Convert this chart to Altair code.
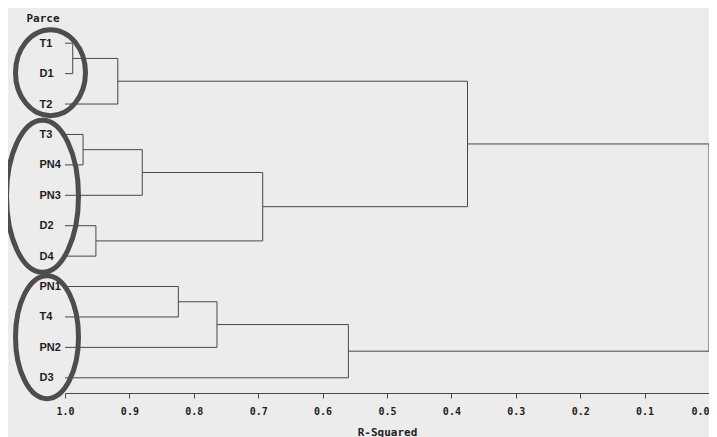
import altair as alt
import pandas as pd

# ---- data ----
leaves = ["T1", "D1", "T2", "T3", "PN4", "PN3", "D2", "D4", "PN1", "T4", "PN2", "D3"]

# merges in order of joining: (child a, child b, R-squared at join, new cluster name)
merge_a = ["T1", "T3", "D2", "CL11", "CL10", "PN1", "CL6", "CL7", "CL5", "CL8", "CL2"]
merge_b = ["D1", "PN4", "D4", "T2", "PN3", "T4", "PN2", "CL9", "D3", "CL4", "CL3"]
merge_r2 = [0.988, 0.972, 0.952, 0.918, 0.880, 0.824, 0.764, 0.693, 0.560, 0.375, 0.000]
merge_name = ["CL11", "CL10", "CL9", "CL8", "CL7", "CL6", "CL5", "CL4", "CL3", "CL2", "CL1"]

groups = [["T1", "D1", "T2"], ["T3", "PN4", "PN3", "D2", "D4"], ["PN1", "T4", "PN2", "D3"]]

x_ticks = [0.0, 0.1, 0.2, 0.3, 0.4, 0.5, 0.6, 0.7, 0.8, 0.9, 1.0]

# ---- build dendrogram segments from the tree ----
pos = {name: i for i, name in enumerate(leaves)}
height = {name: 1.0 for name in leaves}
segs = []
for a, b, h, n in zip(merge_a, merge_b, merge_r2, merge_name):
    for c in (a, b):
        segs.append({"x": height[c], "x2": h, "y": pos[c], "y2": pos[c]})
    segs.append({"x": h, "x2": h, "y": pos[a], "y2": pos[b]})
    pos[n] = (pos[a] + pos[b]) / 2
    height[n] = h
seg_df = pd.DataFrame(segs)

LINE = "#474747"
TEXT = "#1e1e1e"
MONO = "DejaVu Sans Mono"
SANS = "Liberation Sans"

label_expr = "[" + ",".join("'%s'" % l for l in leaves) + "][datum.value]"

xscale = alt.Scale(domain=[0, 1], reverse=True, nice=False, zero=False)
yscale = alt.Scale(domain=[-0.5, len(leaves) - 0.5], reverse=True, nice=False, zero=False)

xaxis = alt.Axis(values=x_ticks, format=".1f", grid=False, labelFlush=False,
                 labelOverlap=False, domainColor=LINE, tickColor=LINE, tickSize=5,
                 labelFont=MONO, labelFontWeight="bold", labelFontSize=10,
                 labelColor=TEXT, labelPadding=8,
                 labelAlign={"condition": {"test": "datum.value == 0", "value": "right"},
                             "value": "center"},
                 title="R-Squared", titleFont=MONO, titleFontWeight="bold",
                 titleFontSize=11, titleColor=TEXT, titleY=33,
                 titleBaseline="top")
yaxis = alt.Axis(values=list(range(len(leaves))), labelExpr=label_expr, grid=False,
                 domain=False, ticks=False, tickSize=0, labelAlign="left",
                 labelBaseline="middle", labelPadding=26, labelFont=SANS,
                 labelFontWeight="bold", labelFontSize=11, labelColor=TEXT,
                 labelOverlap=False,
                 title="Parce", titleAngle=0, titleX=-39, titleY=-10,
                 titleAlign="left", titleBaseline="middle", titleFont=MONO,
                 titleFontWeight="bold", titleFontSize=11, titleColor=TEXT)

tree = alt.Chart(seg_df).mark_rule(color=LINE, strokeWidth=1).encode(
    x=alt.X("x:Q", scale=xscale, axis=xaxis),
    x2="x2",
    y=alt.Y("y:Q", scale=yscale, axis=yaxis),
    y2="y2",
)

# ellipse annotations around the three groups (style: x px, y offset px, semi-axes)
ellipse_style = [
    {"x": -14.5, "dy": -1, "a": 35.0, "b": 43.0},
    {"x": -22.5, "dy": 1, "a": 36.0, "b": 76.0},
    {"x": -18.0, "dy": 5, "a": 31.5, "b": 61.5},
]
rows = []
for g in groups:
    rows.append(sum(pos[l] for l in g) / len(g))

layers = [tree]
for i, st in enumerate(ellipse_style):
    r = st["a"] / st["b"]
    path = "M0,-1A%.4f,1 0 1,1 0,1A%.4f,1 0 1,1 0,-1Z" % (r, r)
    gdf = pd.DataFrame({"ym": [rows[i]]})
    layers.append(
        alt.Chart(gdf).mark_point(shape=path, filled=False, stroke="#4d4d4d",
                                  strokeWidth=5, size=(2 * st["b"]) ** 2,
                                  yOffset=st["dy"], opacity=1).encode(
            x=alt.value(st["x"]),
            y=alt.Y("ym:Q", scale=yscale, axis=None),
        )
    )

chart = alt.layer(*layers).resolve_scale(y="independent").resolve_axis(y="independent").properties(
    width=644, height=365,
    autosize=alt.AutoSizeParams(type="none"),
    padding={"left": 57, "top": 20, "right": 0, "bottom": 44},
    background="#ececec",
).configure_view(stroke=None)

chart.save("out.html", embed_options={"renderer": "svg", "actions": False})
